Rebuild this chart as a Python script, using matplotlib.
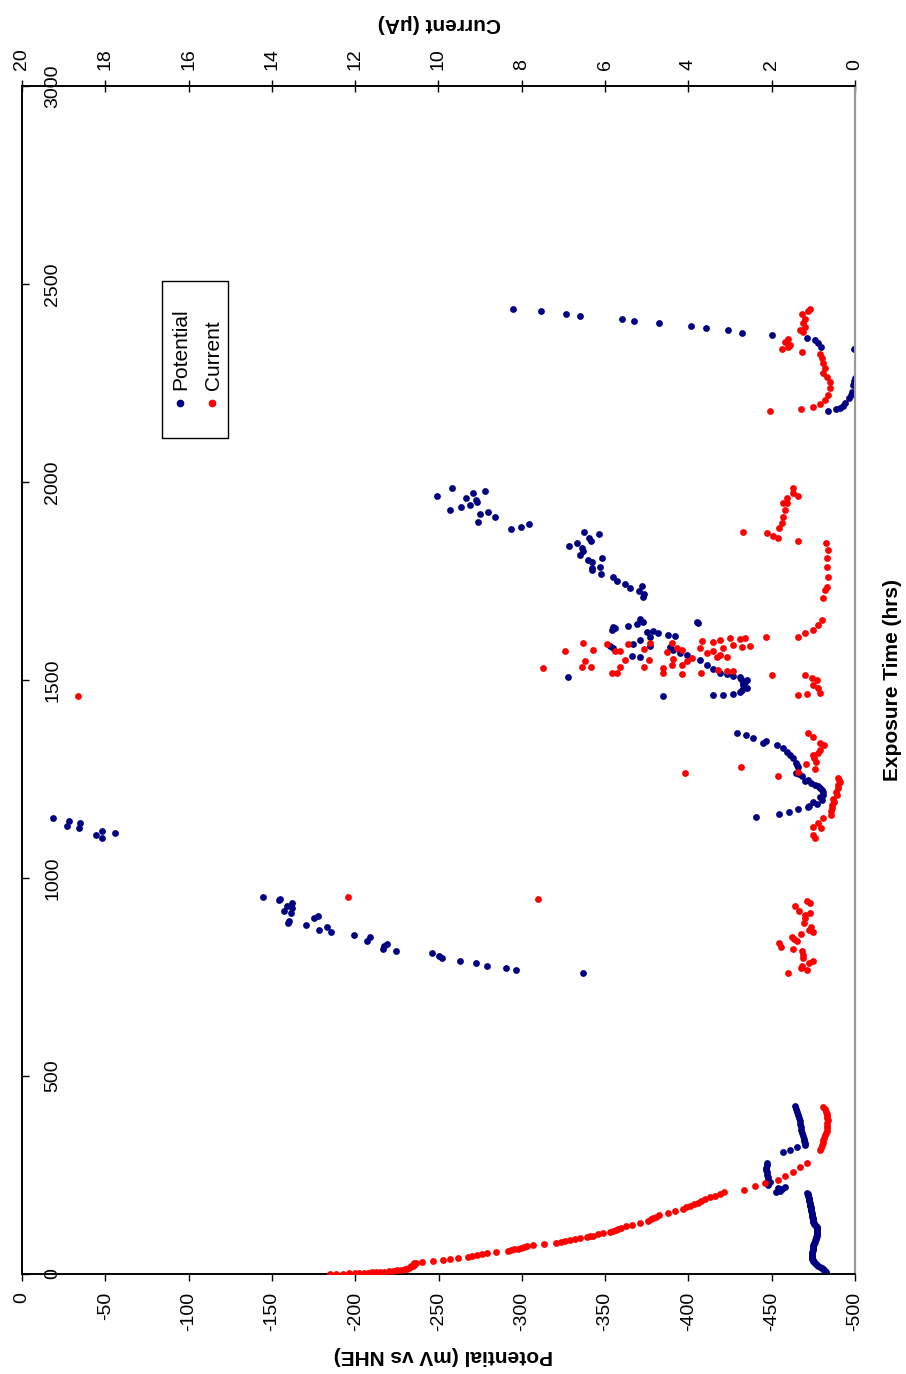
import matplotlib
matplotlib.use("Agg")
import matplotlib.pyplot as plt
from matplotlib.patches import Rectangle

plt.rcParams['font.family'] = ['Liberation Sans', 'DejaVu Sans']
plt.rcParams['axes.unicode_minus'] = False

# Potential readings (hours, mV vs NHE)
pot_hours = [
    # first exposure
    2.5, 7.6, 10, 15, 20, 25, 30, 35, 40, 46, 53, 60, 66, 72, 78, 85, 91, 97,
    104, 110, 116, 121, 126, 131, 136, 142, 149, 155, 162, 168, 174, 180, 187,
    193, 199, 205,
    4, 5.5, 12, 17, 22, 27, 32, 37, 43, 49, 56, 63, 69, 75, 81, 88, 94, 100,
    107, 113, 118, 124, 128, 134, 139, 145, 152, 158, 165, 171, 177, 184, 190,
    196, 202,
    207, 210, 215, 217, 220, 232, 245, 258, 268, 280, 225, 238, 251, 263, 274,
    308, 313, 321, 326, 336, 348, 364, 379, 394, 409, 424,
    330, 342, 356, 371, 386, 401, 416,
    # second exposure
    952, 944, 947, 929, 937, 924, 917, 912, 891, 886, 881, 899, 904, 869, 876,
    864, 856, 841, 851, 821, 828, 833, 816, 811, 803, 798, 790, 785, 778, 773,
    768, 760,
    1152, 1144, 1131, 1139, 1126, 1109, 1119, 1101, 1114,
    1366, 1361, 1354, 1341, 1346, 1336, 1328, 1318, 1311, 1303, 1290, 1280,
    1265, 1258, 1247, 1240, 1232, 1222, 1210, 1197, 1187, 1179, 1174, 1167,
    1162, 1154,
    1285, 1262, 1244, 1236, 1227, 1216, 1204, 1192, 1183,
    # third exposure
    1654, 1646, 1641, 1636, 1634, 1626, 1631, 1646, 1644, 1621, 1624, 1619,
    1608, 1601, 1591, 1614, 1611, 1586, 1581, 1586, 1583, 1576, 1568, 1563,
    1561, 1558, 1550, 1538, 1528, 1518, 1515, 1510, 1508, 1500, 1492, 1480,
    1470, 1465, 1462, 1462, 1460, 1508, 1495, 1488, 1475, 1503,
    1778, 1768, 1760, 1750, 1742, 1732, 1737, 1725, 1717, 1710,
    1965, 1985, 1960, 1972, 1955, 1950, 1942, 1937, 1929, 1977, 1919, 1899,
    1924, 1912, 1881, 1886, 1894, 1874, 1846, 1838, 1859, 1851, 1869, 1833,
    1826, 1816, 1803, 1798, 1783, 1785, 1808,
    # fourth exposure
    2437, 2432, 2424, 2419, 2412, 2407, 2402, 2394, 2389, 2384, 2376, 2371,
    2364, 2359, 2351, 2341, 2336, 2263, 2255, 2245, 2227, 2220, 2212, 2199,
    2192, 2187, 2184, 2179,
]
pot_mv = [
    -482.6, -482.0, -481.5, -480.2, -477.8, -476.5, -475.4, -474.6, -474.2,
    -474.0, -474.2, -474.5, -474.8, -475.0, -475.4, -476.0, -476.6, -477.0,
    -477.2, -477.3, -477.2, -476.4, -475.4, -475.0, -474.8, -474.5, -474.2,
    -473.9, -473.6, -473.3, -473.0, -472.7, -472.4, -472.1, -471.8, -471.2,
    -482.3, -482.2, -481.0, -479.0, -477.2, -476.0, -475.0, -474.4, -474.1,
    -474.1, -474.3, -474.6, -474.9, -475.2, -475.7, -476.3, -476.8, -477.1,
    -477.3, -477.3, -476.9, -475.9, -475.2, -474.9, -474.6, -474.3, -474.0,
    -473.7, -473.4, -473.1, -472.8, -472.5, -472.2, -471.9, -471.5,
    -452.6, -455.0, -456.0, -453.8, -458.0, -449.0, -447.8, -447.2, -446.6,
    -447.2, -448.0, -447.5, -447.4, -446.8, -446.9,
    -456.8, -461.0, -465.2, -470.0, -469.4, -468.8, -467.6, -467.0, -466.4,
    -465.2, -464.0,
    -469.8, -469.1, -468.2, -467.3, -466.7, -465.8, -464.6,
    -144.6, -154.3, -154.9, -159.1, -162.1, -162.1, -157.3, -161.5, -160.3,
    -159.7, -170.5, -175.3, -177.7, -178.3, -183.1, -185.5, -199.3, -207.1,
    -208.9, -216.7, -217.3, -219.1, -224.5, -246.1, -250.3, -252.1, -262.9,
    -272.5, -279.1, -290.5, -296.5, -336.7,
    -18.6, -28.2, -27.0, -34.8, -34.2, -44.4, -48.0, -48.0, -55.8,
    -429.1, -434.5, -438.7, -444.7, -446.5, -453.2, -456.8, -459.2, -461.0,
    -462.8, -464.6, -465.8, -464.6, -468.2, -471.8, -473.6, -477.8, -480.2,
    -480.8, -480.2, -477.2, -471.8, -465.8, -460.4, -454.4, -440.6,
    -465.2, -466.5, -470.0, -475.7, -479.0, -480.5, -479.0, -475.0, -472.5,
    -370.9, -372.7, -369.1, -363.7, -354.7, -354.1, -355.9, -405.1, -405.7,
    -375.1, -378.7, -381.7, -376.9, -370.9, -366.7, -387.7, -391.9, -352.9,
    -354.7, -376.9, -388.9, -390.7, -394.9, -399.1, -366.1, -370.9, -406.9,
    -411.1, -414.7, -418.9, -423.1, -426.7, -430.9, -435.1, -432.7, -435.1,
    -430.9, -426.7, -420.7, -414.7, -384.7, -327.7, -434.0, -433.0, -432.0,
    -431.5,
    -342.1, -347.5, -354.7, -357.1, -361.9, -364.9, -372.1, -370.3, -373.3,
    -372.7,
    -249.1, -258.1, -266.5, -270.7, -272.5, -273.1, -268.9, -263.5, -256.9,
    -277.9, -274.9, -273.7, -279.7, -283.9, -293.5, -299.5, -304.3, -337.3,
    -333.1, -328.3, -340.3, -341.5, -346.3, -336.1, -336.7, -334.9, -339.7,
    -342.1, -342.1, -346.9, -348.1,
    -294.7, -311.5, -326.5, -334.9, -360.1, -367.3, -382.3, -401.5, -410.5,
    -423.7, -432.1, -450.1, -471.2, -476.0, -477.8, -479.6, -499.4, -500.0,
    -499.4, -498.8, -498.2, -497.6, -496.4, -494.0, -492.8, -491.0, -488.6,
    -483.8,
]

# Current readings (hours, uA)
cur_hours = [
    # first exposure
    0, 1, 2, 3, 4, 5, 7, 9, 12, 15, 19, 23, 27, 30, 33, 35, 38, 40, 43, 48,
    53, 55, 58, 62, 66, 70, 73, 76, 78, 83, 88, 93, 97, 101, 106, 111, 116,
    124, 129, 134, 142, 149, 159, 165, 172, 180, 189, 198, 207,
    0.5, 1.5, 2.5, 3.5, 4.5, 6, 8, 10.5, 13.5, 17, 21, 25, 29, 45, 50, 60, 64,
    68, 80, 85, 90, 95, 103, 108, 113, 120, 138, 145, 154, 168, 176, 185, 194,
    203,
    212, 222, 230, 237, 248, 258, 270, 280,
    313, 325, 338, 350, 362, 375, 388, 400, 410, 422,
    319, 331, 344, 356, 369, 381, 394, 405, 416,
    # second exposure
    952, 947,
    942, 937, 929, 917, 907, 912, 899, 886, 876, 869, 864, 859, 851, 846, 841,
    836, 826, 821, 816, 806, 798, 790, 785, 778, 773, 768, 760,
    1460,
    1265, 1280, 1258, 1268, 1288, 1275,
    1366, 1356, 1341, 1336, 1323, 1316, 1311, 1303, 1293,
    1253, 1242, 1227, 1210, 1192, 1177, 1159, 1152, 1139, 1129, 1126, 1109,
    1101,
    1248, 1235, 1218, 1200, 1185, 1168,
    # third exposure
    1651, 1639, 1626, 1619, 1609, 1609, 1606, 1603, 1606, 1588, 1601, 1596,
    1598, 1586, 1583, 1581, 1573, 1568, 1581, 1563, 1558, 1558, 1556, 1548,
    1576, 1581, 1593, 1571, 1553, 1538, 1538, 1530, 1518, 1515, 1518, 1525,
    1523, 1523, 1513, 1513, 1505, 1500, 1487, 1480, 1467, 1465, 1462,
    1593, 1578, 1551, 1533, 1591, 1573, 1573, 1591, 1551, 1533, 1518, 1518,
    1576, 1593, 1573, 1548, 1533, 1533, 1530,
    1874, 1871, 1864, 1859, 1851, 1884, 1897, 1912, 1929, 1947, 1947, 1960,
    1985, 1972, 1965,
    1846, 1828, 1808, 1785, 1760, 1735, 1727, 1707,
    # fourth exposure
    2437, 2432, 2424, 2412, 2402, 2391, 2384, 2379, 2361, 2354, 2346, 2341,
    2336, 2328, 2323, 2313, 2301, 2288, 2275, 2265, 2252, 2237, 2220, 2207,
    2197, 2189, 2184, 2179,
]
cur_ua = [
    12.6, 12.3, 12.0, 11.8, 11.6, 11.4, 11.2, 11.0, 10.8, 10.7, 10.65, 10.6,
    10.6, 10.4, 10.13, 9.89, 9.72, 9.53, 9.29, 9.08, 8.84, 8.62, 8.33, 8.18,
    8.02, 7.88, 7.73, 7.47, 7.18, 6.96, 6.72, 6.43, 6.30, 6.17, 5.88, 5.75,
    5.62, 5.35, 5.16, 4.97, 4.84, 4.71, 4.32, 4.14, 3.96, 3.78, 3.60, 3.37,
    3.14,
    12.45, 12.15, 11.9, 11.7, 11.5, 11.3, 11.1, 10.9, 10.75, 10.68, 10.62,
    10.6, 10.55, 9.2, 8.95, 8.25, 8.1, 7.95, 7.05, 6.85, 6.6, 6.37, 6.05, 5.8,
    5.68, 5.5, 4.9, 4.78, 4.5, 4.05, 3.87, 3.7, 3.48, 3.25,
    2.66, 2.40, 2.16, 1.85, 1.67, 1.49, 1.32, 1.15,
    0.84, 0.80, 0.77, 0.72, 0.68, 0.67, 0.66, 0.67, 0.70, 0.77,
    0.82, 0.78, 0.75, 0.70, 0.67, 0.665, 0.665, 0.68, 0.73,
    12.17, 7.61,
    1.15, 1.08, 1.44, 1.34, 1.20, 1.08, 1.20, 1.22, 1.06, 1.10, 1.01, 1.30,
    1.51, 1.46, 1.39, 1.82, 1.78, 1.49, 1.27, 1.25, 1.25, 1.01, 1.10, 1.27,
    1.30, 1.15, 1.61,
    18.66,
    4.08, 2.74, 1.85, 1.37, 1.18, 0.96,
    1.13, 1.01, 0.84, 0.74, 0.84, 0.89, 1.01, 0.98, 0.94,
    0.41, 0.36, 0.41, 0.43, 0.50, 0.55, 0.58, 0.77, 0.89, 1.01, 0.82, 1.01,
    0.96,
    0.38, 0.40, 0.46, 0.52, 0.56, 0.57,
    0.79, 0.89, 1.01, 1.20, 1.37, 2.14, 2.64, 2.76, 3.00, 2.93, 3.24, 3.41,
    3.67, 2.52, 2.71, 3.17, 3.41, 3.55, 3.72, 3.24, 3.07, 3.31, 3.91, 4.03,
    4.15, 4.27, 4.39, 4.51, 4.37, 4.15, 4.39, 4.61, 4.61, 4.15, 3.70, 3.29,
    3.07, 2.93, 1.99, 1.20, 1.03, 0.91, 1.01, 0.89, 0.84, 1.15, 1.37,
    4.92, 5.06, 4.94, 5.06, 5.45, 5.64, 5.76, 5.95, 5.52, 5.64, 5.83, 5.71,
    6.29, 6.53, 6.96, 6.48, 6.55, 6.34, 7.49,
    2.69, 2.11, 1.97, 1.85, 1.37, 1.82, 1.75, 1.73, 1.68, 1.63, 1.73, 1.63,
    1.49, 1.49, 1.37,
    0.70, 0.65, 0.67, 0.67, 0.65, 0.67, 0.72, 0.77,
    1.08, 1.13, 1.27, 1.20, 1.25, 1.20, 1.32, 1.25, 1.61, 1.68, 1.56, 1.61,
    1.75, 1.27, 0.84, 0.79, 0.77, 0.72, 0.77, 0.67, 0.60, 0.60, 0.65, 0.72,
    0.84, 1.01, 1.30, 2.04,
]

pot_ticks = list(range(0, -501, -50))
cur_ticks = list(range(0, 21, 2))
hour_ticks = list(range(0, 3001, 500))

W, H = 906, 1374
fig = plt.figure(figsize=(W / 100, H / 100), dpi=100)
ax = fig.add_axes([22 / W, 1 - 1274 / H, 833 / W, 1188 / H])

navy = '#000080'
red = '#ff0000'

# chart is laid out on its side: hours run up the page
ax.scatter(pot_mv, pot_hours, s=24, color=navy, linewidths=0, zorder=3)
ax.set_xlim(0, -500)
ax.set_ylim(0, 3000)
ax.set_xticks(pot_ticks)
ax.set_xticklabels([str(v) for v in pot_ticks])
ax.set_yticks(hour_ticks)
ax.set_yticklabels([str(v) for v in hour_ticks])
ax.tick_params(axis='x', direction='out', length=5, width=1, pad=8,
               labelsize=14, labelrotation=90)
ax.tick_params(axis='y', direction='in', length=5, width=1, pad=-22,
               labelsize=14, labelrotation=90)
for lab in ax.get_yticklabels():
    lab.set_ha('center')
    lab.set_va('center')
for lab in ax.get_xticklabels():
    lab.set_va('top')

ax2 = ax.twiny()
ax2.scatter(cur_ua, cur_hours, s=24, color=red, linewidths=0, zorder=3)
ax2.set_xlim(20, 0)
ax2.set_xticks(cur_ticks)
ax2.set_xticklabels([str(v) for v in cur_ticks])
ax2.tick_params(axis='x', direction='inout', length=9, width=1, pad=7,
                labelsize=14, labelrotation=90)

for a in (ax, ax2):
    for side in ('left', 'bottom', 'top'):
        a.spines[side].set_color('black')
        a.spines[side].set_linewidth(1.2)
    a.spines['right'].set_color('#999999')
    a.spines['right'].set_linewidth(1.5)

fig.text(443 / W, 1 - 1356 / H, 'Potential (mV vs NHE)', rotation=180,
         ha='center', va='center', fontsize=15, fontweight='bold')
fig.text(439 / W, 1 - 23 / H, 'Current (\u03bcA)', rotation=180,
         ha='center', va='center', fontsize=15, fontweight='bold')
fig.text(892 / W, 1 - 680 / H, 'Exposure Time (hrs)', rotation=90,
         ha='center', va='center', fontsize=15, fontweight='bold')

# legend box, drawn sideways like the rest
fig.patches.append(Rectangle((162 / W, 1 - 438 / H), 66 / W, 157 / H,
                             transform=fig.transFigure, facecolor='white',
                             edgecolor='black', linewidth=1, zorder=5))
fig.lines.append(plt.Line2D([180 / W], [1 - 403 / H], transform=fig.transFigure,
                            marker='o', markersize=4.5, color=navy, zorder=6))
fig.lines.append(plt.Line2D([212 / W], [1 - 403 / H], transform=fig.transFigure,
                            marker='o', markersize=4.5, color=red, zorder=6))
fig.text(181 / W, 1 - 390 / H, 'Potential', rotation=90, ha='center',
         va='bottom', fontsize=15, zorder=7)
fig.text(213 / W, 1 - 390 / H, 'Current', rotation=90, ha='center',
         va='bottom', fontsize=15, zorder=7)

fig.savefig('out.png', dpi=100)
